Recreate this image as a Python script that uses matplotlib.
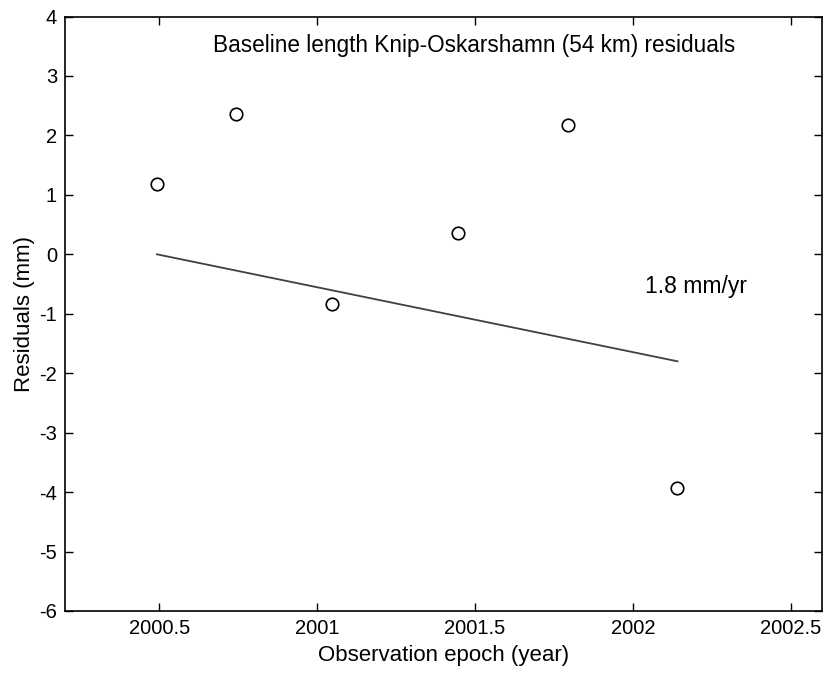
import matplotlib
matplotlib.use("Agg")
import matplotlib.pyplot as plt

# observation epochs and baseline residuals
epochs = [2000.493, 2000.744, 2001.046, 2001.445, 2001.793, 2002.141]
residuals = [1.18, 2.36, -0.84, 0.36, 2.18, -3.93]

# fitted trend line (start / end)
trend_x = [2000.493, 2002.141]
trend_y = [0.0, -1.8]

xticks = [2000.5, 2001, 2001.5, 2002, 2002.5]
xtick_labels = ["2000.5", "2001", "2001.5", "2002", "2002.5"]
yticks = [-6, -5, -4, -3, -2, -1, 0, 1, 2, 3, 4]

plt.rcParams["font.family"] = ["Liberation Sans", "DejaVu Sans"]
plt.rcParams["font.size"] = 14.5
plt.rcParams["axes.unicode_minus"] = False

fig = plt.figure(figsize=(8.29, 6.8), dpi=100)
ax = fig.add_axes([0.0788, 0.1015, 0.9122, 0.8742])

ax.plot(trend_x, trend_y, color="#404040", linewidth=1.3)
ax.plot(epochs, residuals, linestyle="none", marker="o", markersize=9,
        markerfacecolor="none", markeredgecolor="black", markeredgewidth=1.2)

ax.set_xlim(2000.203, 2002.597)
ax.set_ylim(-6, 4)
ax.set_xticks(xticks)
ax.set_xticklabels(xtick_labels)
ax.set_yticks(yticks)
ax.tick_params(direction="in", length=6, width=1, top=True, right=True, pad=6)
for s in ax.spines.values():
    s.set_linewidth(1.2)

ax.text(2000.671, 3.51, "Baseline length Knip-Oskarshamn (54 km) residuals",
        va="center", ha="left", fontsize=16.3)
ax.text(2002.038, -0.54, "1.8 mm/yr", va="center", ha="left", fontsize=16.5)

ax.set_xlabel("Observation epoch (year)", labelpad=5, fontsize=16)
ax.set_ylabel("Residuals (mm)", labelpad=3, fontsize=16)

fig.savefig("out.png", dpi=100)
